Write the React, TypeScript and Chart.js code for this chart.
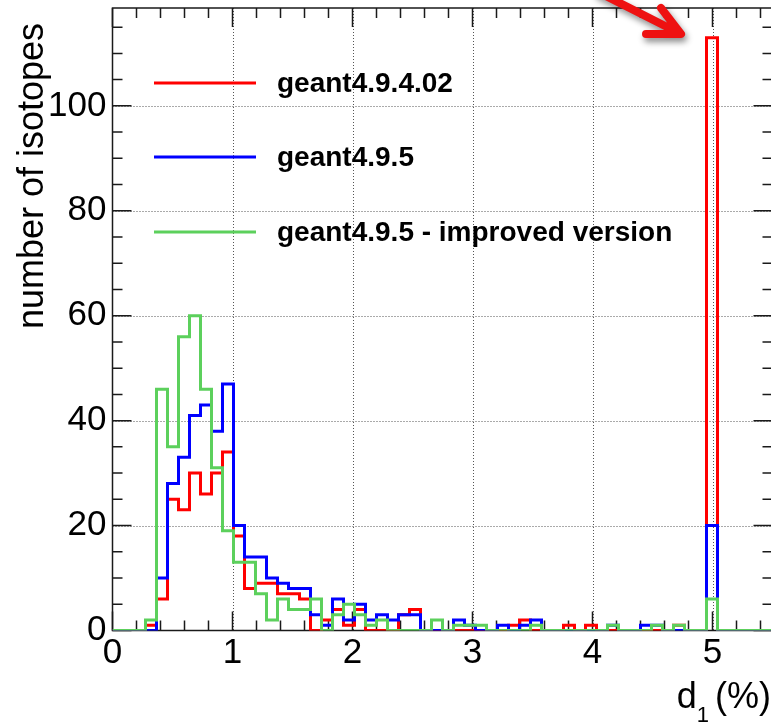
import React, { useEffect, useRef } from "react";
import { Chart, registerables } from "chart.js";

Chart.register(...registerables);

// ---- data ----
const X_MIN = 0;
const X_MAX = 5.5;
const N_BINS = 60;
const Y_MAX = 118.65;

const seriesLabels = ["geant4.9.4.02", "geant4.9.5", "geant4.9.5 - improved version"];
const seriesColors = ["#ff0000", "#0000ff", "#5cd05c"];

// counts per bin (60 bins from 0 to 5.5)
const countsG4_9_4_02 = [
  0, 0, 0, 1, 6, 25, 23, 30, 26, 30,
  34, 18, 8, 9, 9, 7, 7, 6, 0, 2,
  4, 1, 4, 0, 0, 0, 3, 4, 0, 0,
  0, 0, 0, 0, 0, 0, 1, 2, 0, 0,
  0, 1, 0, 1, 0, 0, 0, 0, 0, 0,
  0, 1, 0, 0, 113, 0, 0, 0, 0, 0,
];
const countsG4_9_5 = [
  0, 0, 0, 0, 10, 28, 33, 41, 43, 38,
  47, 20, 14, 14, 10, 9, 8, 8, 3, 1,
  6, 2, 5, 2, 3, 2, 3, 3, 0, 0,
  0, 2, 1, 0, 0, 1, 0, 1, 2, 0,
  0, 0, 0, 0, 0, 1, 0, 0, 1, 1,
  0, 0, 0, 0, 20, 0, 0, 0, 0, 0,
];
const countsG4_9_5_improved = [
  0, 0, 0, 2, 46, 35, 56, 60, 46, 31,
  19, 13, 13, 7, 2, 6, 4, 4, 6, 0,
  3, 5, 3, 1, 2, 0, 0, 0, 0, 2,
  0, 1, 1, 1, 0, 0, 0, 0, 1, 0,
  0, 0, 0, 0, 0, 1, 0, 0, 0, 1,
  0, 1, 0, 0, 6, 0, 0, 0, 0, 0,
];

const xTickValues = [0, 1, 2, 3, 4, 5];
const yTickValues = [0, 20, 40, 60, 80, 100];
const xMinorStep = 0.2;
const yMinorStep = 5;

const yAxisTitle = "number of isotopes";
const xAxisTitleMain = "d";
const xAxisTitleSub = "1";
const xAxisTitleUnit = "(%)";

const FONT = "'Liberation Sans', Arial, Helvetica, sans-serif";

function toSteps(counts: number[]) {
  const w = (X_MAX - X_MIN) / N_BINS;
  const pts = counts.map((c, k) => ({ x: X_MIN + k * w, y: c }));
  pts.push({ x: X_MAX, y: counts[counts.length - 1] });
  return pts;
}

const decorPlugin = {
  id: "decor",
  beforeDatasetsDraw(chart: any) {
    const { ctx, chartArea: a, scales } = chart;
    const x = scales.x;
    const y = scales.y;
    ctx.save();
    // dotted grid
    ctx.strokeStyle = "#555";
    ctx.lineWidth = 1;
    ctx.setLineDash([1, 2]);
    for (const v of xTickValues) {
      if (v === 0) continue;
      const px = Math.round(x.getPixelForValue(v)) + 0.5;
      ctx.beginPath();
      ctx.moveTo(px, a.top);
      ctx.lineTo(px, a.bottom);
      ctx.stroke();
    }
    for (const v of yTickValues) {
      if (v === 0) continue;
      const py = Math.round(y.getPixelForValue(v)) + 0.5;
      ctx.beginPath();
      ctx.moveTo(a.left, py);
      ctx.lineTo(a.right, py);
      ctx.stroke();
    }
    ctx.setLineDash([]);
    // frame
    ctx.strokeStyle = "#1a1a1a";
    ctx.lineWidth = 1.5;
    ctx.strokeRect(a.left, a.top, a.right - a.left, a.bottom - a.top);
    // ticks x
    const nx = Math.round((X_MAX - X_MIN) / xMinorStep);
    for (let i = 0; i <= nx; i++) {
      const v = X_MIN + i * xMinorStep;
      if (v > X_MAX + 1e-9) break;
      const major = Math.abs(v - Math.round(v)) < 1e-6;
      const len = major ? 19 : 10;
      const px = x.getPixelForValue(v);
      ctx.beginPath();
      ctx.moveTo(px, a.bottom);
      ctx.lineTo(px, a.bottom - len);
      ctx.moveTo(px, a.top);
      ctx.lineTo(px, a.top + len);
      ctx.stroke();
    }
    // ticks y
    for (let v = 0; v <= Y_MAX; v += yMinorStep) {
      const major = v % 20 === 0;
      const len = major ? 19 : 10;
      const py = y.getPixelForValue(v);
      ctx.beginPath();
      ctx.moveTo(a.left, py);
      ctx.lineTo(a.left + len, py);
      ctx.moveTo(a.right, py);
      ctx.lineTo(a.right - len, py);
      ctx.stroke();
    }
    ctx.restore();
  },
  afterDraw(chart: any) {
    const { ctx } = chart;
    ctx.save();
    // legend
    const legendY = [83, 157, 232];
    seriesLabels.forEach((lab, i) => {
      ctx.strokeStyle = seriesColors[i];
      ctx.lineWidth = 3;
      ctx.beginPath();
      ctx.moveTo(154, legendY[i]);
      ctx.lineTo(256, legendY[i]);
      ctx.stroke();
      ctx.fillStyle = "#000";
      ctx.font = `bold 28px ${FONT}`;
      ctx.textAlign = "left";
      ctx.textBaseline = "middle";
      ctx.fillText(lab, 277, legendY[i] + 1);
    });
    // y title
    ctx.save();
    ctx.translate(43, 176);
    ctx.rotate(-Math.PI / 2);
    ctx.fillStyle = "#000";
    ctx.font = `36px ${FONT}`;
    ctx.textAlign = "center";
    ctx.textBaseline = "alphabetic";
    ctx.fillText(yAxisTitle, 0, 0);
    ctx.restore();
    // x title
    ctx.fillStyle = "#000";
    ctx.textAlign = "left";
    ctx.textBaseline = "alphabetic";
    ctx.font = `36px ${FONT}`;
    const unitW = ctx.measureText(xAxisTitleUnit).width;
    const unitX = 771 - unitW;
    ctx.fillText(xAxisTitleUnit, unitX, 708);
    ctx.font = `22px ${FONT}`;
    const subW = ctx.measureText(xAxisTitleSub).width;
    const subX = unitX - 6 - subW;
    ctx.fillText(xAxisTitleSub, subX, 722);
    ctx.font = `36px ${FONT}`;
    const dW = ctx.measureText(xAxisTitleMain).width;
    ctx.fillText(xAxisTitleMain, subX - dW, 708);
    // arrow
    ctx.save();
    ctx.shadowColor = "rgba(0,0,0,0.45)";
    ctx.shadowBlur = 6;
    ctx.shadowOffsetX = 2;
    ctx.shadowOffsetY = 4;
    ctx.strokeStyle = "#ee1111";
    ctx.lineWidth = 8;
    ctx.lineCap = "round";
    ctx.lineJoin = "round";
    ctx.beginPath();
    ctx.moveTo(598, -8);
    ctx.lineTo(679, 33);
    ctx.moveTo(661, 8);
    ctx.lineTo(681, 34);
    ctx.lineTo(646, 34);
    ctx.stroke();
    ctx.restore();
    ctx.restore();
  },
};

export default function App() {
  const ref = useRef<HTMLCanvasElement>(null);
  useEffect(() => {
    const canvas = ref.current!;
    const mk = (i: number, counts: number[], order: number) => ({
      label: seriesLabels[i],
      data: toSteps(counts),
      borderColor: seriesColors[i],
      backgroundColor: seriesColors[i],
      borderWidth: 3,
      pointRadius: 0,
      fill: false,
      tension: 0,
      stepped: true,
      borderJoinStyle: "miter" as const,
      borderCapStyle: "butt" as const,
      order,
    });
    const chart = new Chart(canvas, {
      type: "line",
      data: {
        datasets: [
          mk(0, countsG4_9_4_02, 2),
          mk(1, countsG4_9_5, 1),
          mk(2, countsG4_9_5_improved, 0),
        ],
      },
      options: {
        animation: false,
        responsive: false,
        devicePixelRatio: 1,
        events: [],
        layout: { padding: { top: 8, right: 0.5, left: 0, bottom: 0 } },
        plugins: { legend: { display: false }, tooltip: { enabled: false } },
        scales: {
          x: {
            type: "linear",
            min: X_MIN,
            max: X_MAX,
            grid: { display: false, drawTicks: false },
            border: { display: false },
            afterFit: (s: any) => {
              s.height = 94.5;
              s.paddingLeft = 0;
              s.paddingRight = 0;
              s.paddingTop = 0;
              s.paddingBottom = 0;
            },
            afterBuildTicks: (s: any) => {
              s.ticks = xTickValues.map((v) => ({ value: v }));
            },
            ticks: {
              autoSkip: false,
              maxRotation: 0,
              includeBounds: false,
              padding: 2,
              color: "#000",
              font: { family: FONT, size: 35 },
              callback: (v: any) => String(v),
            },
          },
          y: {
            type: "linear",
            min: 0,
            max: Y_MAX,
            grid: { display: false, drawTicks: false },
            border: { display: false },
            afterFit: (s: any) => {
              s.width = 112.5;
              s.paddingTop = 0;
              s.paddingBottom = 0;
              s.paddingLeft = 0;
              s.paddingRight = 0;
            },
            afterBuildTicks: (s: any) => {
              s.ticks = yTickValues.map((v) => ({ value: v }));
            },
            ticks: {
              autoSkip: false,
              includeBounds: false,
              padding: 6,
              color: "#000",
              font: { family: FONT, size: 35 },
              callback: (v: any) => String(v),
            },
          },
        },
      },
      plugins: [decorPlugin],
    } as any);
    return () => chart.destroy();
  }, []);
  return (
    <div
      style={{
        position: "fixed",
        left: 0,
        top: 0,
        width: 771,
        height: 725,
        overflow: "hidden",
        background: "#fff",
      }}
    >
      <canvas ref={ref} width={773} height={725} style={{ display: "block", width: 773, height: 725 }} />
    </div>
  );
}
